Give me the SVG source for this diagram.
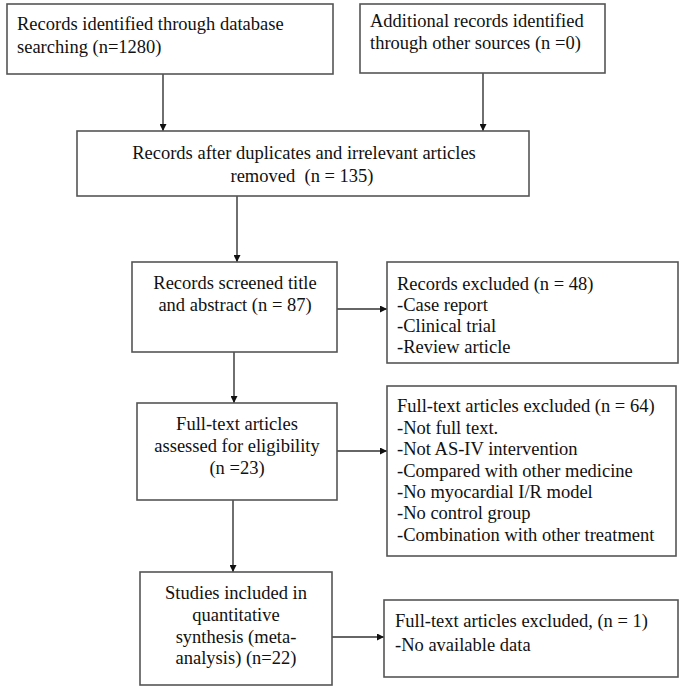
<svg xmlns="http://www.w3.org/2000/svg" width="686" height="692" viewBox="0 0 686 692">
<defs>
<style>
.box{fill:#fff;stroke:#555;stroke-width:1.6}
.t{font-family:"Liberation Serif","Times New Roman",serif;font-size:18.5px;fill:#111;white-space:pre}
.c{text-anchor:middle}
.ln{stroke:#333;stroke-width:1.4;fill:none}
</style>
<marker id="ah" viewBox="0 0 10 10" refX="10" refY="5" markerWidth="7" markerHeight="7" markerUnits="userSpaceOnUse" orient="auto">
<path d="M0,0 L10,5 L0,10 z" fill="#111"/>
</marker>
</defs>
<rect width="686" height="692" fill="#fff"/>
<g id="connectors">
<line class="ln" x1="163" y1="74" x2="163" y2="131" marker-end="url(#ah)"/>
<line class="ln" x1="483" y1="73" x2="483" y2="131" marker-end="url(#ah)"/>
<line class="ln" x1="237" y1="196" x2="237" y2="262" marker-end="url(#ah)"/>
<line class="ln" x1="234" y1="352" x2="234" y2="403" marker-end="url(#ah)"/>
<line class="ln" x1="233" y1="500" x2="233" y2="572" marker-end="url(#ah)"/>
<line class="ln" x1="337" y1="309" x2="387" y2="309" marker-end="url(#ah)"/>
<line class="ln" x1="337" y1="451" x2="387" y2="451" marker-end="url(#ah)"/>
<line class="ln" x1="332" y1="637" x2="384" y2="637" marker-end="url(#ah)"/>
</g>
<g id="n1">
<rect class="box" x="7" y="4" width="326" height="70"/>
<text class="t" x="17" y="30">Records identified through database</text>
<text class="t" x="17" y="53">searching (n=1280)</text>
</g>
<g id="n2">
<rect class="box" x="360" y="4" width="245" height="69"/>
<text class="t" x="370" y="27">Additional records identified</text>
<text class="t" x="370" y="49">through other sources (n =0)</text>
</g>
<g id="n3">
<rect class="box" x="77" y="131" width="452" height="65"/>
<text class="t c" x="304" y="159">Records after duplicates and irrelevant articles</text>
<text class="t c" x="302" y="182">removed  (n = 135)</text>
</g>
<g id="n4">
<rect class="box" x="132" y="262" width="205" height="90"/>
<text class="t c" x="235" y="289">Records screened title</text>
<text class="t c" x="235" y="311">and abstract (n = 87)</text>
</g>
<g id="n5">
<rect class="box" x="387" y="262" width="291" height="101"/>
<text class="t" x="397" y="290">Records excluded (n = 48)</text>
<text class="t" x="397" y="311">-Case report</text>
<text class="t" x="397" y="332">-Clinical trial</text>
<text class="t" x="397" y="353">-Review article</text>
</g>
<g id="n6">
<rect class="box" x="137" y="403" width="200" height="97"/>
<text class="t c" x="237" y="430">Full-text articles</text>
<text class="t c" x="237" y="452">assessed for eligibility</text>
<text class="t c" x="237" y="474">(n =23)</text>
</g>
<g id="n7">
<rect class="box" x="387" y="386" width="289" height="170"/>
<text class="t" x="397" y="412">Full-text articles excluded (n = 64)</text>
<text class="t" x="397" y="434">-Not full text.</text>
<text class="t" x="397" y="455">-Not AS-IV intervention</text>
<text class="t" x="397" y="477">-Compared with other medicine</text>
<text class="t" x="397" y="498">-No myocardial I/R model</text>
<text class="t" x="397" y="519">-No control group</text>
<text class="t" x="397" y="541">-Combination with other treatment</text>
</g>
<g id="n8">
<rect class="box" x="140" y="572" width="192" height="113"/>
<text class="t c" x="236" y="599">Studies included in</text>
<text class="t c" x="236" y="621">quantitative</text>
<text class="t c" x="236" y="643">synthesis (meta-</text>
<text class="t c" x="236" y="664">analysis) (n=22)</text>
</g>
<g id="n9">
<rect class="box" x="384" y="600" width="294" height="77"/>
<text class="t" x="395" y="627">Full-text articles excluded, (n = 1)</text>
<text class="t" x="395" y="651">-No available data</text>
</g>
</svg>
